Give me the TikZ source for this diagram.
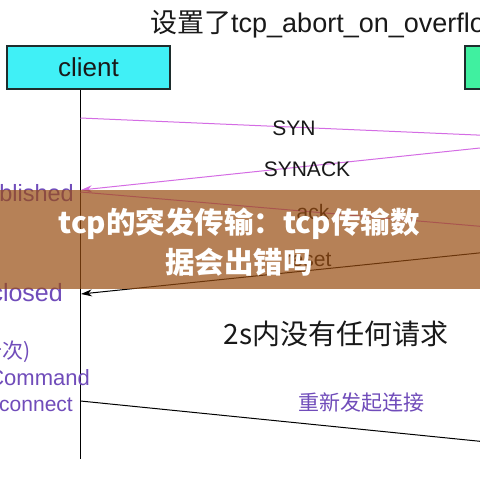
\documentclass[tikz,border=0pt]{standalone}
\usepackage{fontspec}
\setmainfont{Liberation Sans}
\newfontfamily\cjk{Noto Sans CJK SC}
\usetikzlibrary{arrows.meta}
\definecolor{clientfill}{RGB}{64,240,246}
\definecolor{serverfill}{RGB}{64,240,160}
\definecolor{boxline}{RGB}{30,45,45}
\definecolor{msgviolet}{RGB}{212,108,228}
\definecolor{labelpurple}{RGB}{112,76,186}
\definecolor{overlaybrown}{RGB}{152,76,16}
\definecolor{msgtext}{RGB}{25,25,25}
\tikzset{
  actor/.style={draw=boxline, line width=1.1pt, minimum width=163pt, minimum height=43pt, inner sep=0pt, font=\fontsize{26}{30}\selectfont, text=msgtext},
  lifeline/.style={line width=1pt, black},
  synmsg/.style={draw=msgviolet, line width=1pt, -{Stealth[length=11pt,width=7pt]}},
  blackmsg/.style={draw=black, line width=1pt, -{Stealth[length=11pt,width=7pt]}},
  msglabel/.style={inner sep=0pt, font=\fontsize{21}{24}\selectfont, text=msgtext},
  statelabel/.style={inner sep=0pt, anchor=east, font=\fontsize{22}{24}\selectfont, text=labelpurple},
}
\begin{document}
\begin{tikzpicture}[x=1pt,y=-1pt]
\useasboundingbox (0,0) rectangle (480,480);
\clip (0,0) rectangle (480,480);
\fill[white] (0,0) rectangle (480,480);
% title
\node[anchor=base west, inner sep=0pt, font=\fontsize{27}{30}\selectfont, text=msgtext] (title) at (150,32) {{\cjk 设置了}tcp\_abort\_on\_overflow};
% actors
\node[actor, fill=clientfill] (client) at (88.5,67.5) {client};
\node[actor, fill=serverfill] (server) at (546.5,67.5) {server};
% lifelines
\coordinate (cend) at (80.5,459);
\draw[lifeline] (client.south -| cend) -- (cend);
% message points
\coordinate (c1) at (80.5,118);
\coordinate (s1) at (546.5,138);
\coordinate (s2) at (546.5,141);
\coordinate (c2) at (81,190);
\coordinate (c3) at (80.5,192);
\coordinate (s3) at (546.5,232);
\coordinate (s4) at (546.5,246);
\coordinate (c4) at (81,294);
\coordinate (c5) at (80.5,401);
\coordinate (s5) at (546.5,448);
% messages
\draw[synmsg] (c1) -- (s1);
\node[msglabel] (synl) at (294,128) {SYN};
\draw[synmsg] (s2) -- (c2);
\node[msglabel] (synackl) at (307,169) {SYNACK};
\draw[synmsg] (c3) -- (s3);
\node[msglabel] (ackl) at (313,212) {ack};
\draw[blackmsg] (s4) -- (c4);
\node[msglabel] (resetl) at (308,260) {reset};
\draw[blackmsg] (c5) -- (s5);
% state labels
\node[statelabel, font=\fontsize{23.5}{26}\selectfont] (estab) at (74,193) {established};
\node[statelabel, font=\fontsize{25}{28}\selectfont] (closed) at (63,293) {closed};
\node[statelabel, font=\cjk\fontsize{21}{24}\selectfont] (retry) at (31,352) {(重试十次)};
\node[statelabel] (cmd) at (90,378) {Command};
\node[statelabel, font=\fontsize{21}{24}\selectfont] (conn) at (73,405) {connect};
% notes
\node[inner sep=0pt, font=\cjk\fontsize{28}{30}\selectfont, text=msgtext] (idle) at (336,334) {2s内没有任何请求};
\node[inner sep=0pt, font=\cjk\fontsize{21}{24}\selectfont, text=labelpurple] (reconn) at (361,403) {重新发起连接};
% overlay banner
\fill[overlaybrown, opacity=0.7] (0,190) rectangle (480,289);
\node[inner sep=0pt, align=center, text=white, font=\cjk\bfseries\fontsize{29.5}{40}\selectfont] (banner) at (239,242) {tcp的突发传输：tcp传输数\\据会出错吗};
\end{tikzpicture}
\end{document}
